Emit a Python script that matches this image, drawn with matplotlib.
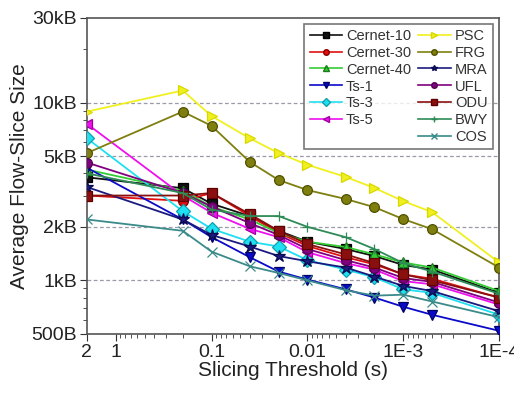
import numpy as np
import matplotlib
matplotlib.use("Agg")
import matplotlib.pyplot as plt
from matplotlib.lines import Line2D
from matplotlib.ticker import FixedLocator, LogLocator, NullFormatter

plt.rcParams["font.family"] = ["Liberation Sans", "DejaVu Sans"]

# slicing thresholds (s)
thresholds = [2, 0.2, 0.1, 0.04, 0.02, 0.01, 0.004, 0.002, 0.001, 0.0005, 0.0001]

# average flow-slice size in kB
cernet_10 = [3.8, 3.3, 2.7, 2.3, 1.9, 1.65, 1.5, 1.37, 1.22, 1.15, 0.85]
cernet_30 = [3.0, 2.8, 3.1, 2.3, 1.85, 1.56, 1.35, 1.23, 1.08, 1.02, 0.80]
cernet_40 = [4.2, 3.2, 2.6, 2.2, 1.85, 1.65, 1.54, 1.40, 1.26, 1.18, 0.87]
ts_1 = [4.3, 2.2, 1.75, 1.35, 1.12, 1.01, 0.89, 0.80, 0.71, 0.64, 0.52]
ts_3 = [6.3, 2.45, 1.95, 1.65, 1.55, 1.3, 1.15, 1.04, 0.89, 0.85, 0.64]
ts_5 = [7.6, 3.0, 2.4, 1.95, 1.75, 1.44, 1.25, 1.15, 0.99, 0.95, 0.73]
psc = [8.9, 11.7, 8.4, 6.3, 5.2, 4.47, 3.82, 3.31, 2.79, 2.42, 1.26]
frg = [5.2, 8.9, 7.4, 4.64, 3.67, 3.22, 2.87, 2.58, 2.21, 1.94, 1.18]
mra = [3.35, 2.2, 1.8, 1.55, 1.37, 1.28, 1.18, 1.05, 0.93, 0.87, 0.67]
ufl = [4.6, 3.1, 2.6, 2.1, 1.8, 1.5, 1.3, 1.18, 1.03, 0.98, 0.75]
odu = [3.0, 3.0, 3.1, 2.36, 1.9, 1.6, 1.4, 1.25, 1.08, 1.0, 0.80]
bwy = [4.0, 3.1, 2.5, 2.3, 2.3, 2.0, 1.75, 1.5, 1.25, 1.12, 0.84]
cos = [2.2, 1.9, 1.45, 1.2, 1.1, 1.0, 0.88, 0.82, 0.83, 0.76, 0.62]

series = [
    ("Cernet-10", cernet_10, "#111111", "#000000", "s"),
    ("Cernet-30", cernet_30, "#e01010", "#8a0000", "o"),
    ("Cernet-40", cernet_40, "#33cc33", "#1a7a1a", "^"),
    ("Ts-1", ts_1, "#0a0ac8", "#00006a", "v"),
    ("Ts-3", ts_3, "#1ee0f0", "#10a0b0", "D"),
    ("Ts-5", ts_5, "#ee10ee", "#a000a0", "<"),
    ("PSC", psc, "#f0f020", "#d8d800", ">"),
    ("FRG", frg, "#7f7f10", "#505000", "o"),
    ("MRA", mra, "#1a1a80", "#0a0a50", "*"),
    ("UFL", ufl, "#800080", "#500050", "o"),
    ("ODU", odu, "#8a1010", "#600000", "s"),
    ("BWY", bwy, "#2e8b57", "#2e8b57", "+"),
    ("COS", cos, "#3a8a8a", "#3a8a8a", "x"),
]

fig = plt.figure(figsize=(5.14, 3.96), dpi=100)
ax = fig.add_axes([0.169, 0.157, 0.802, 0.798])

handles = []
for name, vals, color, edge, marker in series:
    y = np.array(vals) * 1000
    ms = 9 if marker == "*" else 7
    ax.plot(thresholds, y, color=color, marker=marker, markersize=ms,
            markeredgecolor=edge, markeredgewidth=0.9, linewidth=1.3,
            zorder=3)
    handles.append(Line2D([0], [0], color=color, marker=marker, markersize=4,
                          markeredgecolor=edge, linewidth=1.2, label=name))

ax.set_xscale("log")
ax.set_yscale("log")
ax.set_xlim(2, 1e-4)
ax.set_ylim(500, 30000)

ax.set_xticks([2, 1, 0.1, 0.01, 1e-3, 1e-4])
ax.set_xticklabels(["2", "1", "0.1", "0.01", "1E-3", "1E-4"])
ax.xaxis.set_minor_locator(LogLocator(base=10, subs=np.arange(2, 10)))
ax.xaxis.set_minor_formatter(NullFormatter())

ax.set_yticks([500, 1000, 2000, 5000, 10000, 30000])
ax.set_yticklabels(["500B", "1kB", "2kB", "5kB", "10kB", "30kB"])
ax.yaxis.set_minor_locator(FixedLocator([600, 700, 800, 900, 3000, 4000,
                                         6000, 7000, 8000, 9000, 20000]))
ax.yaxis.set_minor_formatter(NullFormatter())

for g in [1000, 2000, 5000, 10000]:
    ax.axhline(g, color="#9a9aa8", linestyle=(0, (3, 2)), linewidth=0.9,
               zorder=1)

ax.tick_params(axis="both", which="major", labelsize=14, length=5,
               direction="out", colors="#333333", labelcolor="#222222",
               pad=2)
ax.tick_params(axis="both", which="minor", length=3, direction="out",
               colors="#333333")
for s in ax.spines.values():
    s.set_color("#555555")
    s.set_linewidth(1.2)

ax.set_xlabel("Slicing Threshold (s)", fontsize=15, color="#222222",
              labelpad=0)
ax.set_ylabel("Average Flow-Slice Size", fontsize=15, color="#222222",
              labelpad=2)

blank = Line2D([0], [0], color="none", label="")
leg_handles = handles[:6] + [blank] + handles[6:]
leg = ax.legend(handles=leg_handles, ncol=2, loc="upper right",
                fontsize=10.5, frameon=True, fancybox=False,
                handlelength=2.2, handletextpad=0.3, columnspacing=0.5,
                labelspacing=0.2, borderpad=0.35, borderaxespad=0.4)
leg.get_frame().set_edgecolor("#555555")
leg.get_frame().set_linewidth(1.2)
for t in leg.get_texts():
    t.set_color("#333333")

fig.savefig("out.png", dpi=100)
